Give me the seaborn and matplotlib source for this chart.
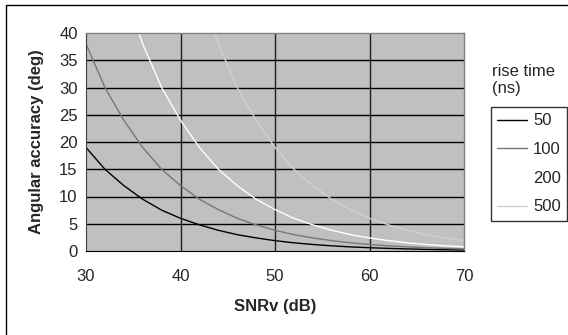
import matplotlib
matplotlib.use("Agg")
import matplotlib.pyplot as plt
import seaborn as sns
import pandas as pd
from matplotlib.patches import Rectangle
from matplotlib.lines import Line2D

# ---- data ----
rise_times = ["50", "100", "200", "500"]

snr_50 = [30, 32, 34, 36, 38, 40, 42, 44, 46, 48, 50, 52, 54, 56, 58, 60, 62, 64, 66, 68, 70]
acc_50 = [19, 15, 12, 9.5, 7.5, 6, 4.8, 3.8, 3, 2.4, 1.9, 1.5, 1.2, 0.95, 0.75, 0.6, 0.48, 0.38, 0.3, 0.24, 0.19]

snr_100 = [30, 32, 34, 36, 38, 40, 42, 44, 46, 48, 50, 52, 54, 56, 58, 60, 62, 64, 66, 68, 70]
acc_100 = [38, 30, 24, 19, 15, 12, 9.5, 7.6, 6, 4.8, 3.8, 3, 2.4, 1.9, 1.5, 1.2, 0.95, 0.76, 0.6, 0.48, 0.38]

snr_200 = [34, 36, 38, 40, 42, 44, 46, 48, 50, 52, 54, 56, 58, 60, 62, 64, 66, 68, 70]
acc_200 = [48, 38, 30, 24, 19, 15, 12, 9.5, 7.6, 6, 4.8, 3.8, 3, 2.4, 1.9, 1.5, 1.2, 0.95, 0.76]

snr_500 = [42, 44, 46, 48, 50, 52, 54, 56, 58, 60, 62, 64, 66, 68, 70]
acc_500 = [47.5, 38, 30, 24, 19, 15, 12, 9.5, 7.5, 6, 4.8, 3.8, 3, 2.4, 1.9]

x_ticks = [30, 40, 50, 60, 70]
y_ticks = [0, 5, 10, 15, 20, 25, 30, 35, 40]

series_x = [snr_50, snr_100, snr_200, snr_500]
series_y = [acc_50, acc_100, acc_200, acc_500]
frames = []
for name, xs, ys in zip(rise_times, series_x, series_y):
    frames.append(pd.DataFrame({"SNRv": xs, "acc": ys, "rise": name}))
df = pd.concat(frames, ignore_index=True)

colors = {"50": "#000000", "100": "#777777", "200": "#ffffff", "500": "#d0d0d0"}

sns.set_style("white")
plt.rcParams["font.family"] = ["Liberation Sans", "DejaVu Sans"]

FS = 12
W, H = 568, 335
fig = plt.figure(figsize=(W / 100, H / 100), dpi=100)
fig.patch.set_facecolor("white")

# outer chart frame
fig.patches.append(Rectangle((6 / W, -0.1), 1.2, 1 - 5 / H + 0.1, transform=fig.transFigure,
                             fill=False, edgecolor="black", linewidth=1.0))

L, R, T, B = 86, 464, 33, 251
ax = fig.add_axes([L / W, (H - B) / H, (R - L) / W, (B - T) / H])
ax.set_facecolor("#c0c0c0")

sns.lineplot(data=df, x="SNRv", y="acc", hue="rise", hue_order=rise_times, palette=colors,
             linewidth=1.0, ax=ax, legend=False, sort=False, estimator=None)

ax.set_xlim(30, 70)
ax.set_ylim(0, 40)
ax.set_xticks(x_ticks)
ax.set_yticks(y_ticks)
ax.set_xticklabels([str(v) for v in x_ticks], fontsize=FS)
ax.set_yticklabels([str(v) for v in y_ticks], fontsize=FS)
ax.tick_params(axis="both", direction="out", length=4, width=1, color="#404040")
ax.tick_params(axis="x", pad=9)
ax.tick_params(axis="y", pad=2)

for v in y_ticks[1:-1]:
    ax.axhline(v, color="#000000", linewidth=1.0, zorder=0.5)
for v in x_ticks[1:-1]:
    ax.axvline(v, color="#202020", linewidth=1.0, zorder=0.5)

for s in ["top", "right"]:
    ax.spines[s].set_color("#808080")
    ax.spines[s].set_linewidth(1.0)
ax.spines["left"].set_color("#404040")
ax.spines["bottom"].set_color("#000000")
for s in ax.spines.values():
    s.set_visible(True)

ax.set_xlabel("")
ax.set_ylabel("")
fig.text(275 / W, 1 - 306 / H, "SNRv (dB)", ha="center", va="center", fontsize=FS, fontweight="bold")
fig.text(37 / W, 1 - 142 / H, "Angular accuracy (deg)", ha="center", va="center", rotation=90,
         fontsize=FS, fontweight="bold")

# legend title (outside box)
fig.text(492 / W, 1 - 72 / H, "rise time", ha="left", va="center", fontsize=FS)
fig.text(492 / W, 1 - 89 / H, "(ns)", ha="left", va="center", fontsize=FS)

handles = [Line2D([0], [0], color=colors[r], linewidth=1.0) for r in rise_times]
leg = fig.legend(handles, rise_times, loc="upper left", bbox_to_anchor=(491 / W, 1 - 107 / H),
                 frameon=True, fancybox=False, fontsize=FS, handlelength=1.8, handletextpad=0.35,
                 labelspacing=0.82, borderpad=0.38, borderaxespad=0)
leg.get_frame().set_edgecolor("black")
leg.get_frame().set_linewidth(1.0)

fig.savefig("out.png", dpi=100, facecolor="white")
